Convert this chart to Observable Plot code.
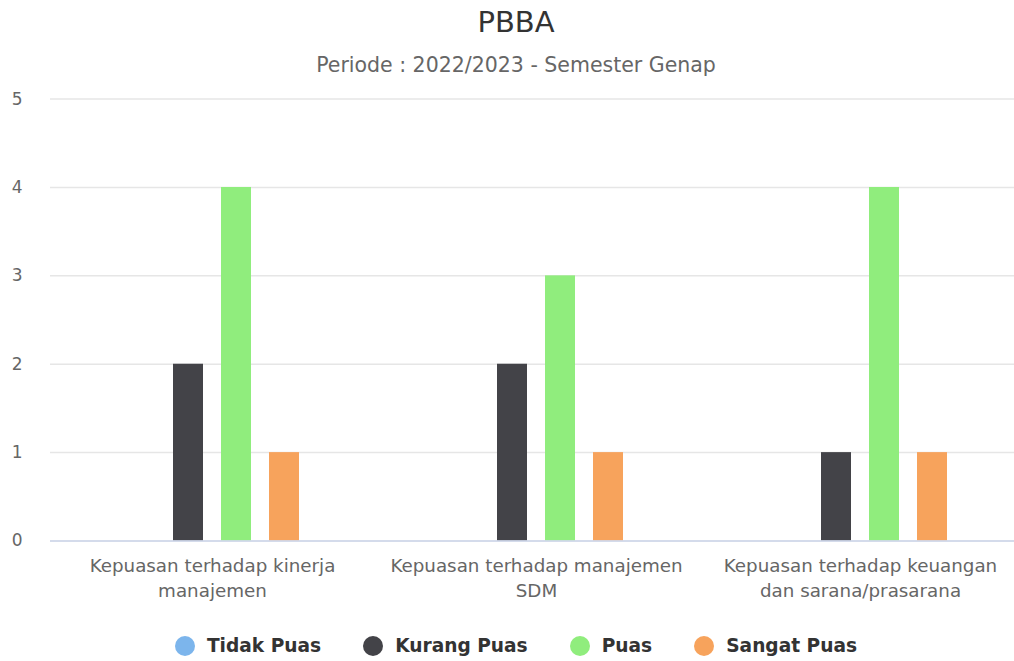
<!DOCTYPE html>
<html>
<head>
<meta charset="utf-8">
<script src="https://cdn.jsdelivr.net/npm/d3@7"></script>
<script src="https://cdn.jsdelivr.net/npm/@observablehq/plot@0.6"></script>
<style>
  html, body { margin: 0; padding: 0; background: #fff; overflow: hidden; }
  body { width: 1014px; height: 661px; }
  #wrap { position: relative; width: 1032px; height: 661px;
    font-family: "DejaVu Sans", sans-serif; }
  #title { position: absolute; left: 0; width: 1032px; top: 8px; text-align: center;
    font-size: 29px; line-height: 29px; color: #333333; }
  #subtitle { position: absolute; left: 0; width: 1032px; top: 54px; text-align: center;
    font-size: 20.5px; line-height: 22px; color: #666666; }
  #chart { position: absolute; left: 0; top: 85px; }
  #legend { position: absolute; left: 0; width: 1032px; top: 635px; display: flex;
    justify-content: center; align-items: center; font-size: 18.6px; font-weight: bold; color: #333333; }
  .item { display: flex; align-items: center; margin: 0 21px; }
  .dot { width: 20px; height: 20px; border-radius: 50%; margin-right: 12px; }
</style>
</head>
<body>
<div id="wrap">
  <div id="title">PBBA</div>
  <div id="subtitle">Periode : 2022/2023 - Semester Genap</div>
  <div id="chart"></div>
  <div id="legend"></div>
</div>
<script>
const categories = [
  "Kepuasan terhadap kinerja manajemen",
  "Kepuasan terhadap manajemen SDM",
  "Kepuasan terhadap keuangan dan sarana/prasarana"
];
const categoryLines = [
  "Kepuasan terhadap kinerja\nmanajemen",
  "Kepuasan terhadap manajemen\nSDM",
  "Kepuasan terhadap keuangan\ndan sarana/prasarana"
];
const seriesNames = ["Tidak Puas", "Kurang Puas", "Puas", "Sangat Puas"];
const seriesColors = ["#7cb5ec", "#434348", "#90ed7d", "#f7a35c"];
const tidakPuas = [0, 0, 0];
const kurangPuas = [2, 2, 1];
const puas = [4, 3, 4];
const sangatPuas = [1, 1, 1];
const yTicks = [0, 1, 2, 3, 4, 5];

const seriesValues = [tidakPuas, kurangPuas, puas, sangatPuas];
const data = [];
categories.forEach((c, i) => {
  seriesNames.forEach((s, j) => data.push({cat: c, series: s, value: seriesValues[j][i]}));
});
const labelOf = new Map(categories.map((c, i) => [c, categoryLines[i]]));

const fontFamily = '"DejaVu Sans", sans-serif';
const chart = Plot.plot({
  width: 1032,
  height: 530,
  marginLeft: 49,
  marginRight: 10,
  marginTop: 13.6,
  marginBottom: 74.5,
  style: {fontFamily, background: "transparent"},
  fx: {domain: categories, padding: 0, label: null},
  x: {domain: seriesNames, paddingInner: 0.378, paddingOuter: 1.553, axis: null},
  y: {domain: [0, 5], label: null},
  color: {domain: seriesNames, range: seriesColors},
  marks: [
    Plot.gridY(yTicks, {stroke: "#e6e6e6", strokeOpacity: 1, strokeWidth: 1.5}),
    Plot.axisY(yTicks, {tickSize: 0, tickPadding: 28, fontSize: 17, fill: "#666666", label: null,
      tickFormat: d3.format("d")}),
    Plot.barY(data, {fx: "cat", x: "series", y: "value", fill: "series"}),
    Plot.ruleY([0], {stroke: "#ccd6eb", strokeWidth: 1.5}),
    Plot.axisFx({anchor: "bottom", tickSize: 0, tickPadding: 14, fontSize: 18.3, fill: "#666666", label: null,
      tickFormat: (d) => labelOf.get(d), lineHeight: 1.33})
  ]
});
document.getElementById("chart").appendChild(chart);

const legend = document.getElementById("legend");
seriesNames.forEach((s, i) => {
  const item = document.createElement("div");
  item.className = "item";
  const dot = document.createElement("span");
  dot.className = "dot";
  dot.style.background = seriesColors[i];
  const label = document.createElement("span");
  label.textContent = s;
  item.appendChild(dot);
  item.appendChild(label);
  legend.appendChild(item);
});
</script>
</body>
</html>
